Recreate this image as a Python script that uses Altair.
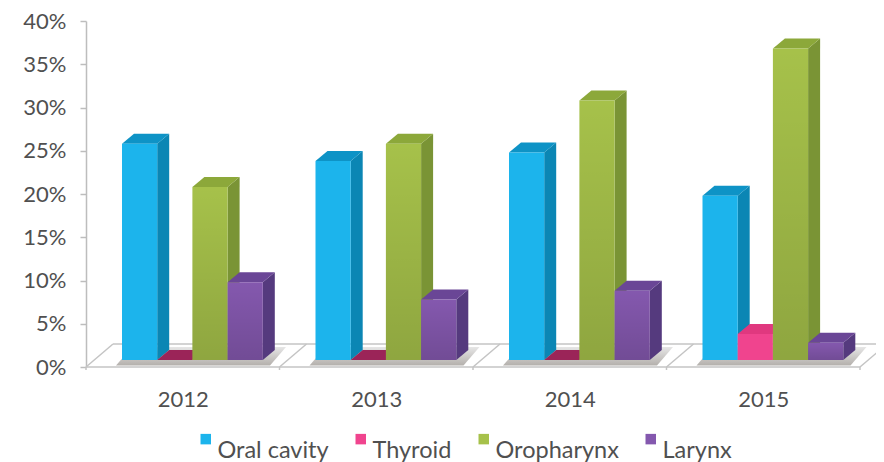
import altair as alt
import pandas as pd

years = ["2012", "2013", "2014", "2015"]
series = ["Oral cavity", "Thyroid", "Oropharynx", "Larynx"]
oral_cavity = [25, 23, 24, 19]
thyroid = [0, 0, 0, 3]
oropharynx = [20, 25, 30, 36]
larynx = [9, 7, 8, 2]
all_values = [oral_cavity, thyroid, oropharynx, larynx]

front_colors = ["#1CB4EC", "#F0448E", "#A6C14A", "#8458AE"]
side_colors = ["#0B86B4", "#B82A68", "#7A9435", "#553A7E"]
top_colors = ["#0E93C6", "#E0387F", "#8CA83A", "#6A4696"]
flat_top_color = "#9B2458"

PW, PH = 774, 346
UX = PW / 4          # px per category
UY = PH / 40         # px per percent
BAR_W = 35.2 / UX
BAR_START = 36 / UX
DX = 12 / UX
DY = 10 / UY
BASE = 7 / UY
FLOOR_DX = 27 / UX
FLOOR_DY = 23 / UY

fronts, faces = [], []
fid = 0
for k, year in enumerate(years):
    for s, name in enumerate(series):
        v = all_values[s][k]
        x0 = k + BAR_START + s * BAR_W
        x1 = x0 + BAR_W
        lo, hi = BASE, BASE + v
        fronts.append(dict(x0=x0, x1=x1, lo=lo, hi=hi, series=name, year=year))
        if v > 0:
            fid += 1
            faces += [
                dict(x=x1, top=hi, bot=lo, fid=fid, shade=side_colors[s]),
                dict(x=x1 + DX, top=hi + DY, bot=lo + DY, fid=fid, shade=side_colors[s]),
            ]
        fid += 1
        col = top_colors[s] if v > 0 else flat_top_color
        faces += [
            dict(x=x0, top=hi, bot=hi, fid=fid, shade=col),
            dict(x=x0 + DX, top=hi + DY, bot=hi, fid=fid, shade=col),
            dict(x=x1, top=hi + DY, bot=hi, fid=fid, shade=col),
            dict(x=x1 + DX, top=hi + DY, bot=hi + DY, fid=fid, shade=col),
        ]

fronts = pd.DataFrame(fronts)
faces = pd.DataFrame(faces)

xs = alt.Scale(domain=[0, 4], nice=False, zero=False)
ys = alt.Scale(domain=[0, 40], nice=False, zero=False)

floor_lines = []
for k in range(5):
    floor_lines += [dict(x=k, y=0, g=k), dict(x=k + FLOOR_DX, y=FLOOR_DY, g=k)]
floor_lines += [dict(x=FLOOR_DX, y=FLOOR_DY, g=9), dict(x=4 + FLOOR_DX, y=FLOOR_DY, g=9)]
floor_lines += [dict(x=0, y=0, g=10), dict(x=4, y=0, g=10)]
floor_df = pd.DataFrame(floor_lines)

floor_ticks = pd.DataFrame([dict(x=k, y=0, y2=-3 / UY) for k in range(5)])

shadow = []
for k in range(4):
    a = k + 30 / UX
    b = k + 184 / UX
    top = 20 / UY
    bot = 1.5 / UY
    shadow += [
        dict(x=a, top=bot, bot=bot, g=k),
        dict(x=a + 16 / UX, top=top, bot=bot, g=k),
        dict(x=b, top=top, bot=bot, g=k),
        dict(x=b + 16 / UX, top=top, bot=top, g=k),
    ]
shadow = pd.DataFrame(shadow)

x_axis = alt.Axis(
    values=[0.5, 1.5, 2.5, 3.5],
    labelExpr="['2012','2013','2014','2015'][floor(datum.value)]",
    title=None, ticks=False, domain=False, grid=False,
    labelFont="Lato", labelFontSize=22, labelColor="#505050", labelPadding=22,
)
y_axis = alt.Axis(
    values=list(range(0, 41, 5)),
    labelExpr="datum.value + '%'",
    title=None, grid=False, domainColor="#BDBDBD", domainWidth=1.5,
    tickColor="#BDBDBD", tickSize=6, tickWidth=1.5,
    labelFont="Lato", labelFontSize=22, labelColor="#505050", labelPadding=14,
)

shadow_layer = alt.Chart(shadow).mark_area(
    orient="vertical",
    fill=alt.Gradient(
        gradient="linear", x1=0, y1=1, x2=0, y2=0,
        stops=[alt.GradientStop(color="#B4B0AC", offset=0),
               alt.GradientStop(color="#E6E6E6", offset=1)],
    ),
).encode(
    x=alt.X("x:Q", scale=xs, axis=x_axis),
    y=alt.Y("top:Q", scale=ys, axis=y_axis),
    y2="bot:Q",
    detail="g:N",
)

line_layer = alt.Chart(floor_df).mark_line(color="#C4C4C4", strokeWidth=1.5).encode(
    x=alt.X("x:Q", scale=xs), y=alt.Y("y:Q", scale=ys), detail="g:N"
)

tick_layer = alt.Chart(floor_ticks).mark_rule(color="#C4C4C4", strokeWidth=1.5).encode(
    x=alt.X("x:Q", scale=xs), y=alt.Y("y:Q", scale=ys), y2="y2:Q"
)

face_layer = alt.Chart(faces).mark_area(orient="vertical").encode(
    x=alt.X("x:Q", scale=xs),
    y=alt.Y("top:Q", scale=ys),
    y2="bot:Q",
    detail="fid:N",
    color=alt.Color("shade:N", scale=None),
)

front_layer = alt.Chart(fronts).mark_rect().encode(
    x=alt.X("x0:Q", scale=xs),
    x2="x1:Q",
    y=alt.Y("lo:Q", scale=ys),
    y2="hi:Q",
    color=alt.Color(
        "series:N",
        scale=alt.Scale(domain=series, range=front_colors),
        sort=series,
        legend=alt.Legend(
            orient="none", legendX=108, legendY=406, direction="horizontal",
            columns=4, title=None, symbolType="square", symbolSize=110,
            symbolStrokeWidth=0, labelFont="Lato", labelFontSize=23.5,
            labelColor="#505050", labelOffset=0, columnPadding=20,
            labelLimit=200, labelBaseline="top",
        ),
    ),
)

shade_layer = alt.Chart(fronts[fronts["series"].isin(["Oropharynx", "Larynx"])]).mark_rect(
    fill=alt.Gradient(
        gradient="linear", x1=0, y1=0, x2=0, y2=1,
        stops=[alt.GradientStop(color="rgba(0,0,0,0)", offset=0),
               alt.GradientStop(color="rgba(0,0,0,0.14)", offset=1)],
    ),
).encode(
    x=alt.X("x0:Q", scale=xs), x2="x1:Q",
    y=alt.Y("lo:Q", scale=ys), y2="hi:Q",
)

chart = alt.layer(
    shadow_layer, line_layer, tick_layer, face_layer, front_layer, shade_layer
).properties(
    width=PW, height=PH, autosize="none",
    padding={"left": 78, "top": 13, "right": 16, "bottom": 95},
).configure_view(stroke=None)

chart.save("out.html", embed_options={"renderer": "svg", "actions": False})
